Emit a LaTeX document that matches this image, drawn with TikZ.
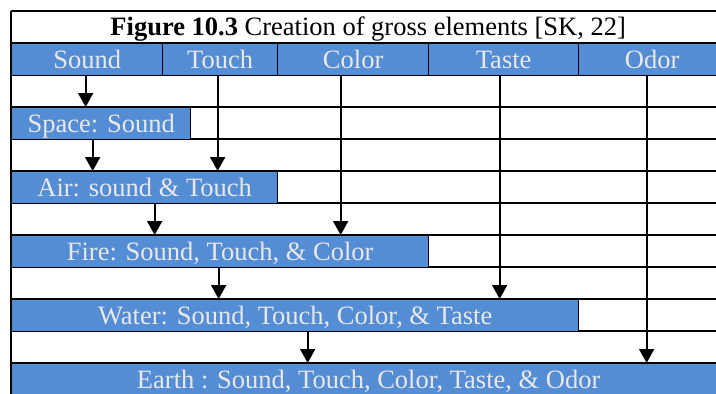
\documentclass[tikz,border=0pt]{standalone}
\usepackage{fontspec}
\setmainfont{Liberation Serif}
\usetikzlibrary{arrows.meta}
\definecolor{barblue}{RGB}{84,141,212}
\definecolor{bartext}{RGB}{232,232,232}

\begin{document}
\begin{tikzpicture}[x=1pt,y=-1pt,
    txt/.style={anchor=north west,minimum height=32pt,inner sep=0pt,
      text height=17pt,text depth=0pt,font=\fontsize{26.5}{30}\selectfont},
    cell/.style={txt,draw=black,line width=1.3pt,fill=barblue,text=bartext},
    arr/.style={line width=1.8pt,-{Triangle[width=15pt,length=14pt]}}]
  \useasboundingbox (0,0) rectangle (716,394);
  \clip (0,0) rectangle (716,394);

  % rows of the table
  \foreach \y in {11,43,...,395}
    \draw[line width=1.3pt] (11,\y) -- (725,\y);
  \draw[line width=1.3pt] (11,11) -- (11,395) (725,11) -- (725,395);

  \node[txt,minimum width=714pt] (title) at (11,11)
    {\textbf{Figure 10.3} Creation of gross elements [SK, 22]};

  % header
  \node[cell,minimum width=151pt] (hSound) at (11,43)  {Sound};
  \node[cell,minimum width=115pt] (hTouch) at (162,43) {Touch};
  \node[cell,minimum width=151pt] (hColor) at (277,43) {Color};
  \node[cell,minimum width=150pt] (hTaste) at (428,43) {Taste};
  \node[cell,minimum width=147pt] (hOdor)  at (578,43) {Odor};

  % gross elements
  \node[cell,minimum width=179pt] (space) at (11,107) {Space: Sound};
  \node[cell,minimum width=266pt] (air)   at (11,171) {Air: sound \& Touch};
  \node[cell,minimum width=417pt] (fire)  at (11,235) {Fire: Sound, Touch, \& Color};
  \node[cell,minimum width=567pt] (water) at (11,299) {Water: Sound, Touch, Color, \& Taste};
  \node[cell,minimum width=714pt] (earth) at (11,363) {Earth : Sound, Touch, Color, Taste, \& Odor};

  % arrows from the qualities
  \draw[arr] ([xshift=-1.5pt]hSound.south)  -- ([xshift=-1.5pt]hSound.south |- space.north);
  \draw[arr] ([xshift=-2.5pt]hTouch.south)  -- ([xshift=-2.5pt]hTouch.south |- air.north);
  \draw[arr] ([xshift=-12.5pt]hColor.south) -- ([xshift=-12.5pt]hColor.south |- fire.north);
  \draw[arr] ([xshift=-4pt]hTaste.south)    -- ([xshift=-4pt]hTaste.south |- water.north);
  \draw[arr] ([xshift=-5.5pt]hOdor.south)   -- ([xshift=-5.5pt]hOdor.south |- earth.north);

  % arrows between elements
  \draw[arr] ([xshift=-8.5pt]space.south) -- ([xshift=-8.5pt]space.south |- air.north);
  \draw[arr] ([xshift=10pt]air.south)     -- ([xshift=10pt]air.south |- fire.north);
  \draw[arr] ([xshift=-1.5pt]fire.south)  -- ([xshift=-1.5pt]fire.south |- water.north);
  \draw[arr] ([xshift=12.5pt]water.south) -- ([xshift=12.5pt]water.south |- earth.north);
\end{tikzpicture}
\end{document}
